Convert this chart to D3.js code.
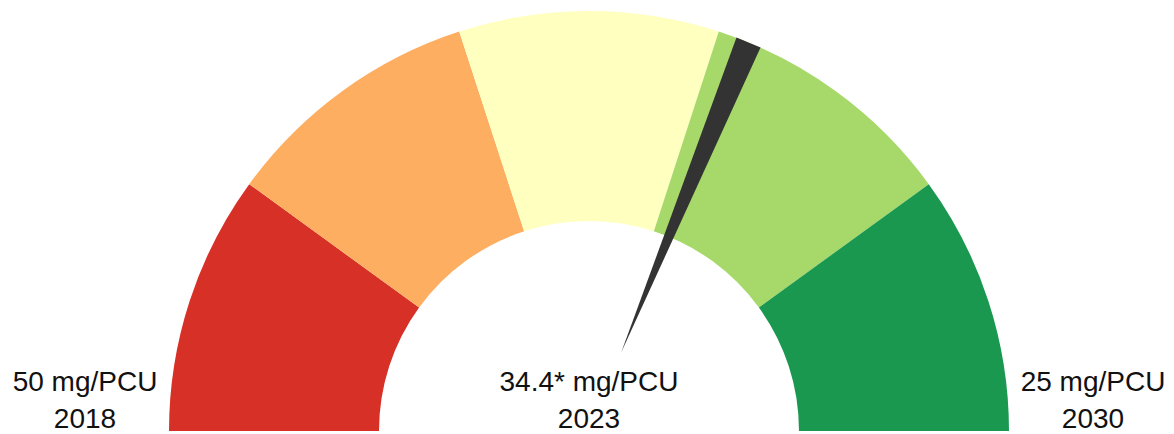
<!DOCTYPE html>
<html>
<head>
<meta charset="utf-8">
<script src="https://cdn.jsdelivr.net/npm/d3@7"></script>
<style>
  body { margin: 0; background: #fff; }
  svg { display: block; }
</style>
</head>
<body>
<div id="vis"></div>
<script>
const FRAME_WIDTH = 1174;
const FRAME_HEIGHT = 434;
const CENTER = {x: 589, y: 431};
const OUTER_R = 420;
const INNER_R = 210;

// data
const bandEdges = [50, 45, 40, 35, 30, 25];
const bandColors = ['#d73027', '#fdae61', '#ffffbf', '#a6d96a', '#1a9850'];
const currentValue = 34.4;
const labels = [
    {value: 50, top: '50 mg/PCU', bottom: '2018'},
    {value: 34.4, top: '34.4* mg/PCU', bottom: '2023'},
    {value: 25, top: '25 mg/PCU', bottom: '2030'}
];

const FRAME = d3.select('#vis')
    .append('svg')
        .attr('width', FRAME_WIDTH)
        .attr('height', FRAME_HEIGHT);

// value -> angle (d3.arc convention, 0 = up, clockwise)
const ANGLE = d3.scaleLinear()
    .domain([50, 25])
    .range([-Math.PI / 2, Math.PI / 2]);

const G = FRAME.append('g')
    .attr('transform', 'translate(' + CENTER.x + ',' + CENTER.y + ')');

const arc = d3.arc()
    .innerRadius(INNER_R)
    .outerRadius(OUTER_R);

const bands = bandColors.map((c, i) => ({
    startAngle: ANGLE(bandEdges[i]),
    endAngle: ANGLE(bandEdges[i + 1]),
    color: c
}));

G.selectAll('path.band')
    .data(bands)
    .enter()
    .append('path')
        .attr('class', 'band')
        .attr('d', arc)
        .attr('fill', d => d.color);

// needle: thin wedge, point near the centre, wide end at the outer rim
const a = ANGLE(currentValue);
const tipR = 85;
const halfW = 13;
const dir = [Math.sin(a), -Math.cos(a)];
const perp = [Math.cos(a), Math.sin(a)];
const needle = [
    [dir[0] * tipR, dir[1] * tipR],
    [dir[0] * OUTER_R + perp[0] * halfW, dir[1] * OUTER_R + perp[1] * halfW],
    [dir[0] * OUTER_R - perp[0] * halfW, dir[1] * OUTER_R - perp[1] * halfW]
];

G.append('path')
    .attr('d', d3.line()(needle) + 'Z')
    .attr('fill', '#333333');

// labels
const labelX = d3.scaleLinear()
    .domain([50, 25])
    .range([CENTER.x - 504, CENTER.x + 504]);

const lbl = FRAME.selectAll('g.label')
    .data(labels)
    .enter()
    .append('g')
        .attr('class', 'label')
        .attr('font-family', 'Liberation Sans, Arial, sans-serif')
        .attr('font-size', '28px')
        .attr('fill', '#111')
        .attr('text-anchor', 'middle');

lbl.append('text')
    .attr('x', d => d.value === currentValue ? CENTER.x : labelX(d.value))
    .attr('y', 391)
    .text(d => d.top);

lbl.append('text')
    .attr('x', d => d.value === currentValue ? CENTER.x : labelX(d.value))
    .attr('y', 428)
    .text(d => d.bottom);
</script>
</body>
</html>
